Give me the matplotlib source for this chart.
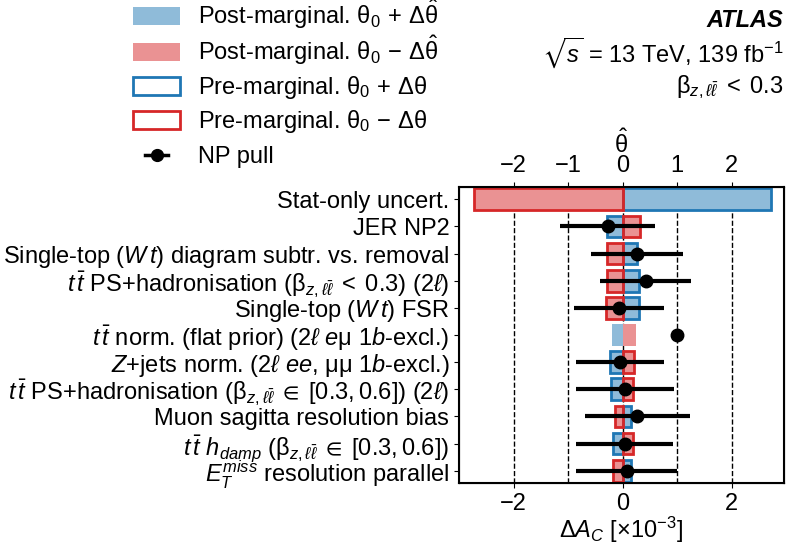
import numpy as np
import matplotlib
matplotlib.use("Agg")
import matplotlib.pyplot as plt
from matplotlib.patches import Rectangle
from matplotlib.lines import Line2D

plt.rcParams['font.family'] = ['Liberation Sans', 'DejaVu Sans']
plt.rcParams['mathtext.fontset'] = 'custom'
plt.rcParams['mathtext.rm'] = 'Liberation Sans'
plt.rcParams['mathtext.it'] = 'Liberation Sans:italic'
plt.rcParams['mathtext.bf'] = 'Liberation Sans:bold'
plt.rcParams['mathtext.fallback'] = 'stixsans'
plt.rcParams['font.size'] = 17

labels = [
    "Stat-only uncert.",
    "JER NP2",
    r"Single-top ($W\,t$) diagram subtr. vs. removal",
    r"$t\,\bar{t}$ PS+hadronisation ($\mathrm{\beta}_{z,\ell\bar{\ell}}\;<\;0.3$) ($2\ell$)",
    r"Single-top ($W\,t$) FSR",
    r"$t\,\bar{t}$ norm. (flat prior) ($2\ell$ $e\mathrm{\mu}$ $1b$-excl.)",
    r"$Z$+jets norm. ($2\ell$ $ee$, $\mathrm{\mu\mu}$ $1b$-excl.)",
    r"$t\,\bar{t}$ PS+hadronisation ($\mathrm{\beta}_{z,\ell\bar{\ell}}\;\in\;[0.3, 0.6]$) ($2\ell$)",
    "Muon sagitta resolution bias",
    r"$t\,\bar{t}$ $h_{damp}$ ($\mathrm{\beta}_{z,\ell\bar{\ell}}\;\in\;[0.3, 0.6]$)",
    r"$E_T^{miss}$ resolution parallel",
]

# impacts on A_C in units of 1e-3
post_up = [2.72, -0.29, 0.27, 0.29, 0.29, -0.20, -0.24, -0.21, 0.16, -0.18, 0.16]
post_dn = [-2.72, 0.31, -0.27, -0.29, -0.31, 0.24, 0.20, 0.19, -0.15, 0.18, -0.18]
pre_up = [2.72, -0.29, 0.27, 0.29, 0.29, np.nan, -0.24, -0.21, 0.16, -0.18, 0.16]
pre_dn = [-2.72, 0.31, -0.29, -0.29, -0.31, np.nan, 0.20, 0.19, -0.15, 0.18, -0.18]

# nuisance parameter pulls
pull = [np.nan, -0.27, 0.26, 0.42, -0.07, 1.0, -0.05, 0.04, 0.27, 0.04, 0.07]
pull_err = [np.nan, 0.87, 0.85, 0.83, 0.82, 0.0, 0.80, 0.90, 0.97, 0.89, 0.93]

leg_labels = [
    r"Post-marginal. $\mathrm{\theta}_0\,+\,\Delta\hat{\mathrm{\theta}}$",
    r"Post-marginal. $\mathrm{\theta}_0\,-\,\Delta\hat{\mathrm{\theta}}$",
    r"Pre-marginal. $\mathrm{\theta}_0\,+\,\Delta\mathrm{\theta}$",
    r"Pre-marginal. $\mathrm{\theta}_0\,-\,\Delta\mathrm{\theta}$",
    "NP pull",
]

blue = '#1f77b4'
red = '#d62728'
blue_f = '#8fbbd9'
red_f = '#ea9293'

W, H = 790, 552
fig = plt.figure(figsize=(W / 100, H / 100), dpi=100)
ax = fig.add_axes([0.581, 0.125, 0.411, 0.536])

y = np.arange(len(labels))
h = 0.8

for xv in [-2, -1, 0, 1, 2]:
    ax.axvline(xv, color='black', ls='--', lw=1, zorder=0)

ax.barh(y, post_up, height=h, color=blue_f, zorder=1)
ax.barh(y, post_dn, height=h, color=red_f, zorder=1)

pu = np.array(pre_up)
pd_ = np.array(pre_dn)
m = ~np.isnan(pu)
ax.barh(y[m], pu[m], height=h, fill=False, edgecolor=blue, lw=2, zorder=2)
ax.barh(y[m], pd_[m], height=h, fill=False, edgecolor=red, lw=2, zorder=2)

ax.errorbar(pull, y, xerr=pull_err, fmt='o', color='black', ms=9,
            elinewidth=3, capsize=0, zorder=3)

ax.set_xlim(-3.0, 2.95)
ax.set_ylim(len(labels) - 0.55, -0.45)
ax.set_yticks(y)
ax.set_yticklabels(labels)
ax.set_xticks([-2, 0, 2])
ax.set_xticklabels(['\u22122', '0', '2'])
ax.set_xlabel(r'$\Delta A_C$ [$\times10^{-3}$]', labelpad=0)
for s in ax.spines.values():
    s.set_linewidth(1.5)

ax2 = ax.twiny()
ax2.set_xlim(ax.get_xlim())
ax2.set_xticks([-2, -1, 0, 1, 2])
ax2.set_xticklabels(['\u22122', '\u22121', '0', '1', '2'])
ax2.set_xlabel(r'$\hat{\mathrm{\theta}}$', labelpad=2)

# legend drawn by hand, rows in pixels from the top
rows = [16, 52, 86, 120, 155]
hx0, hx1, tx = 133, 180, 198
styles = [
    dict(facecolor=blue_f, edgecolor='none'),
    dict(facecolor=red_f, edgecolor='none'),
    dict(facecolor='white', edgecolor=blue, lw=2),
    dict(facecolor='white', edgecolor=red, lw=2),
]
for ry, st in zip(rows[:4], styles):
    fig.add_artist(Rectangle((hx0 / W, 1 - (ry + 8.5) / H), (hx1 - hx0) / W, 17 / H,
                             transform=fig.transFigure, **st))
ry = rows[4]
fig.add_artist(Line2D([145 / W, 168 / W], [1 - ry / H] * 2, color='black', lw=2.5,
                      transform=fig.transFigure))
fig.add_artist(Line2D([157 / W], [1 - ry / H], color='black', marker='o', ms=8.5,
                      transform=fig.transFigure))
for ry, lab in zip(rows, leg_labels):
    fig.text(tx / W, 1 - (ry + 8) / H, lab, ha='left', va='baseline')

fig.text(0.992, 0.962, 'ATLAS', ha='right', va='center',
         fontweight='bold', fontstyle='italic')
fig.text(0.992, 0.905, r'$\sqrt{s}$ = 13 TeV, 139 fb$^{-1}$', ha='right', va='center')
fig.text(0.992, 0.843, r'$\mathrm{\beta}_{z,\ell\bar{\ell}}\;<\;0.3$', ha='right', va='center')

fig.savefig('out.png', dpi=100)
